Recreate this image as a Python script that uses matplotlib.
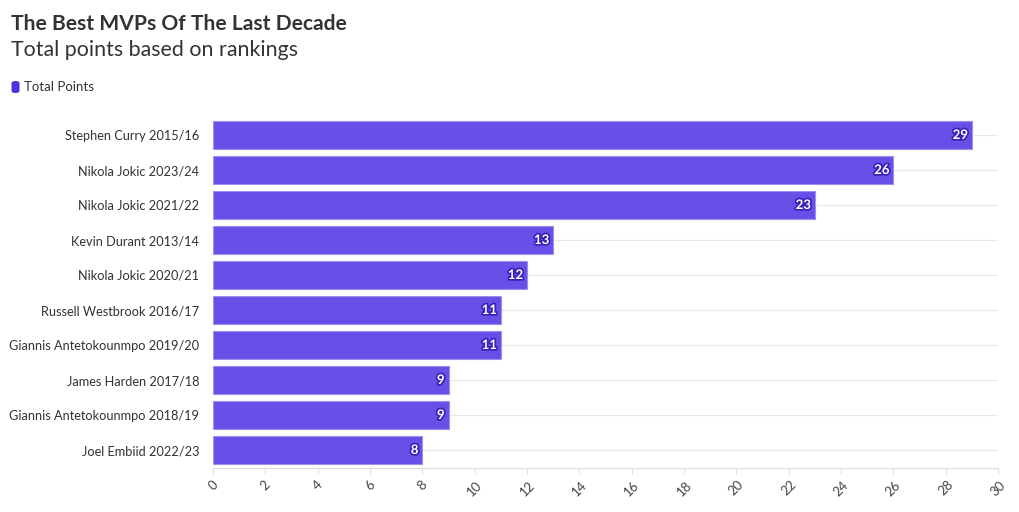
import matplotlib
matplotlib.use("Agg")
import matplotlib.pyplot as plt
import matplotlib.patheffects as pe
from matplotlib.patches import FancyBboxPatch

players = ["Stephen Curry 2015/16", "Nikola Jokic 2023/24", "Nikola Jokic 2021/22",
           "Kevin Durant 2013/14", "Nikola Jokic 2020/21", "Russell Westbrook 2016/17",
           "Giannis Antetokounmpo 2019/20", "James Harden 2017/18",
           "Giannis Antetokounmpo 2018/19", "Joel Embiid 2022/23"]
points = [29, 26, 23, 13, 12, 11, 11, 9, 9, 8]
xticks = list(range(0, 31, 2))

plt.rcParams['font.family'] = ['Lato', 'DejaVu Sans']

fig = plt.figure(figsize=(10.2, 5.12), dpi=100)
W, H = 1020, 512
ax = fig.add_axes([213 / W, 1 - 467.5 / H, (998 - 213) / W, (467.5 - 117.5) / H])

bar_color = "#6650e8"
ypos = list(range(len(players)))
ax.barh(ypos, points, height=0.8, color=bar_color, edgecolor="#9d8ff0", linewidth=0.8, zorder=3)
for y, v in zip(ypos, points):
    ax.text(v - 0.15, y, str(v), ha="right", va="center", color="white",
            fontsize=9.5, fontweight="bold", zorder=4,
            path_effects=[pe.withStroke(linewidth=2.5, foreground="#3a22b8")])

ax.set_ylim(len(players) - 0.5, -0.5)
ax.set_xlim(0, 30)
ax.set_yticks(ypos)
ax.set_yticklabels(players, fontsize=9.2, color="#333333")
ax.set_xticks(xticks)
ax.set_xticklabels([str(t) for t in xticks], rotation=45, fontsize=9.5, color="#444444",
                   ha="center", va="top")
ax.tick_params(axis="y", length=0, pad=10)
ax.tick_params(axis="x", length=4, color="#dddddd", pad=4)
for y in ypos:
    ax.axhline(y, color="#e8e8e8", linewidth=0.8, zorder=1)
for s in ["top", "right", "left"]:
    ax.spines[s].set_visible(False)
ax.spines["bottom"].set_color("#dddddd")
ax.spines["bottom"].set_linewidth(0.8)

fig.text(11 / W, 1 - 24 / H, "The Best MVPs Of The Last Decade", fontsize=15.1,
         fontweight="bold", color="#333333", va="center", ha="left")
fig.text(11 / W, 1 - 50 / H, "Total points based on rankings", fontsize=15.4,
         color="#333333", va="center", ha="left")
fig.patches.append(FancyBboxPatch((11.5 / W, 1 - 93 / H), 8 / W, 12 / H,
                                  boxstyle="round,pad=0,rounding_size=0.004",
                                  transform=fig.transFigure, facecolor="#4b34e0",
                                  edgecolor="none"))
fig.text(24 / W, 1 - 87 / H, "Total Points", fontsize=9.5, color="#333333",
         va="center", ha="left")

fig.savefig("out.png", dpi=100)
